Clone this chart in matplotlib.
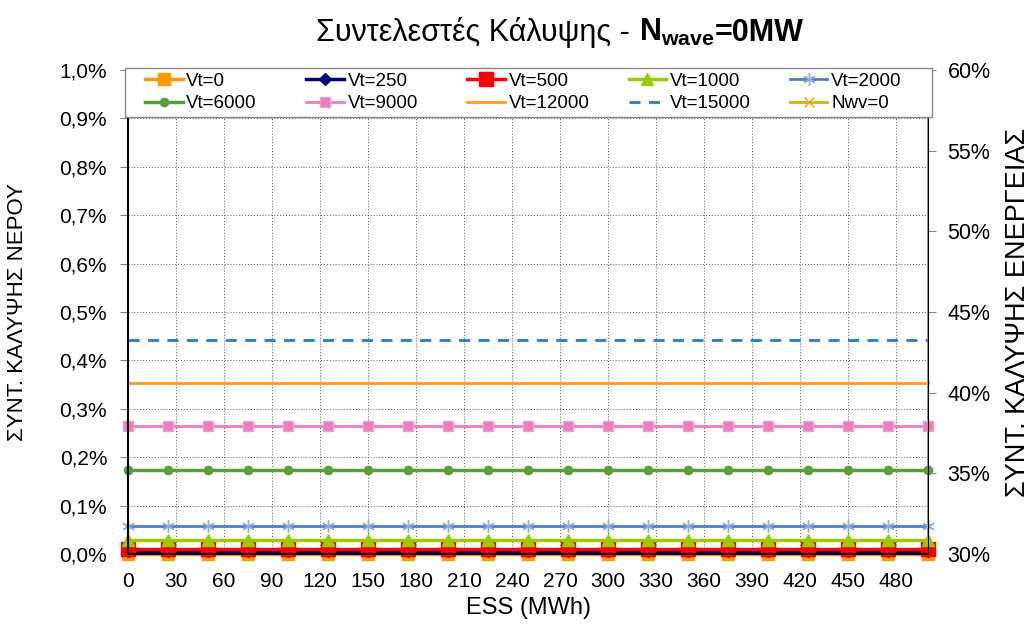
import numpy as np
import matplotlib
matplotlib.use('Agg')
import matplotlib.pyplot as plt
from matplotlib.patches import Rectangle
from matplotlib.ticker import FuncFormatter

plt.rcParams['font.family'] = ['Liberation Sans', 'DejaVu Sans']
plt.rcParams['mathtext.fontset'] = 'custom'
plt.rcParams['mathtext.rm'] = 'Liberation Sans'
plt.rcParams['mathtext.bf'] = 'Liberation Sans:bold'

# ESS storage (MWh)
ess = np.arange(0, 501, 25)

# water coverage factor (fraction), constant across ESS
series_names = ['Vt=0', 'Vt=250', 'Vt=500', 'Vt=1000', 'Vt=2000',
                'Vt=6000', 'Vt=9000', 'Vt=12000', 'Vt=15000']
series_levels = [0.0000, 0.000055, 0.00011, 0.00029, 0.00057,
                 0.00174, 0.002645, 0.00354, 0.004425]
# energy coverage (right axis)
nwv_name = 'Nwv=0'
nwv_level = 0.30

styles = [
    dict(color='#FF9900', marker='s', ms=9, lw=2.5),
    dict(color='#000080', marker='D', ms=6, lw=2.5),
    dict(color='#FF0000', marker='s', ms=10, lw=2.5),
    dict(color='#99CC00', marker='^', ms=9, lw=2.5),
    dict(color='#4F7FC8', marker=(6, 2, 0), ms=9, lw=2, mew=1, mec='#8FAADC'),
    dict(color='#5E9E3A', marker='o', ms=6, lw=2.5),
    dict(color='#F07CBE', marker='s', ms=7, lw=2, mec='#E8A0D0'),
    dict(color='#FF9A1A', marker=None, lw=2),
    dict(color='#1F7FD0', marker=None, lw=2, ls=(0, (4, 3))),
]

W, H = 1035, 624
fig = plt.figure(figsize=(W / 100, H / 100), dpi=100)
ax = fig.add_axes([0.1237, 0.1122, 0.7729, 0.7756])
ax2 = ax.twinx()

hnd = []
for name, lev, st in zip(series_names, series_levels, styles):
    st = dict(st)
    ls = st.pop('ls', '-')
    h, = ax.plot(ess, np.full(ess.shape, lev), label=name, ls=ls,
                 clip_on=False, **st)
    hnd.append(h)

h, = ax2.plot(ess, np.full(ess.shape, nwv_level), color='#E6AC00',
              marker='x', ms=7, lw=2, label=nwv_name)
hnd.append(h)

ax.set_zorder(ax2.get_zorder() + 1)
ax.patch.set_visible(False)

ax.set_xlim(0, 500)
ax.set_xticks(np.arange(0, 481, 30))
ax.set_ylim(0, 0.01)
ax.set_yticks(np.arange(0, 0.0101, 0.001))
ax.yaxis.set_major_formatter(FuncFormatter(lambda v, p: f'{v*100:.1f}%'.replace('.', ',')))
ax2.set_ylim(0.30, 0.60)
ax2.set_yticks(np.arange(0.30, 0.601, 0.05))
ax2.yaxis.set_major_formatter(FuncFormatter(lambda v, p: f'{v*100:.0f}%'))

ax.grid(True, ls=(0, (1, 2)), color='#555555', lw=0.7)
ax.tick_params(axis='y', labelsize=15, length=6, pad=9, color='#888888')
ax.tick_params(axis='x', labelsize=15, length=0, pad=13)
ax2.tick_params(labelsize=15.5, length=6, pad=8, color='#888888')
for s in ['left', 'bottom']:
    ax.spines[s].set_color('black')
    ax.spines[s].set_linewidth(1.5)
for s in ['top', 'right']:
    ax2.spines[s].set_color('#888888')
    ax2.spines[s].set_linewidth(1.2)
ax2.spines['left'].set_visible(False)
ax2.spines['bottom'].set_visible(False)

ax.set_xlabel('ESS (MWh)', fontsize=17, labelpad=4)
fig.text(0.017, 0.5, 'ΣΥΝΤ. ΚΑΛΥΨΗΣ ΝΕΡΟΥ', rotation=90, fontsize=16,
         ha='center', va='center')
fig.text(0.984, 0.5, 'ΣΥΝΤ. ΚΑΛΥΨΗΣ ΕΝΕΡΓΕΙΑΣ', rotation=90, fontsize=19.5,
         ha='center', va='center')

# title: normal part + bold part with subscript, placed side by side
title_y = 0.935
t1 = fig.text(0, title_y, 'Συντελεστές Κάλυψης - ', fontsize=22, va='baseline')
t2 = fig.text(0, title_y, r'$\mathbf{N_{wave}}$', fontsize=22, va='baseline')
t3 = fig.text(0, title_y, '=0MW', fontsize=22, fontweight='bold', va='baseline')
fig.canvas.draw()
r = fig.canvas.get_renderer()
widths = [t.get_window_extent(r).width for t in (t1, t2, t3)]
x0 = 560 - sum(widths) / 2
for t, w in zip((t1, t2, t3), widths):
    t.set_x(x0 / W)
    x0 += w

# legend: frame box plus 5 equal-width columns (row 1: first five, row 2: rest)
fig.patches.append(Rectangle((125 / W, 1 - 117 / H), 807 / W, 49 / H,
                             transform=fig.transFigure, facecolor='white',
                             edgecolor='#888888', lw=1.0, zorder=4))
for i in range(5):
    pair = [hnd[i], hnd[i + 5]]
    fig.legend(pair, [p.get_label() for p in pair], loc='center left',
               bbox_to_anchor=((145 + 161.2 * i) / W, 1 - 92.5 / H),
               fontsize=13.5, frameon=False, borderpad=0, borderaxespad=0,
               handlelength=2.0, handletextpad=0.2, labelspacing=0.3)

plt.savefig('out.png', dpi=100)
